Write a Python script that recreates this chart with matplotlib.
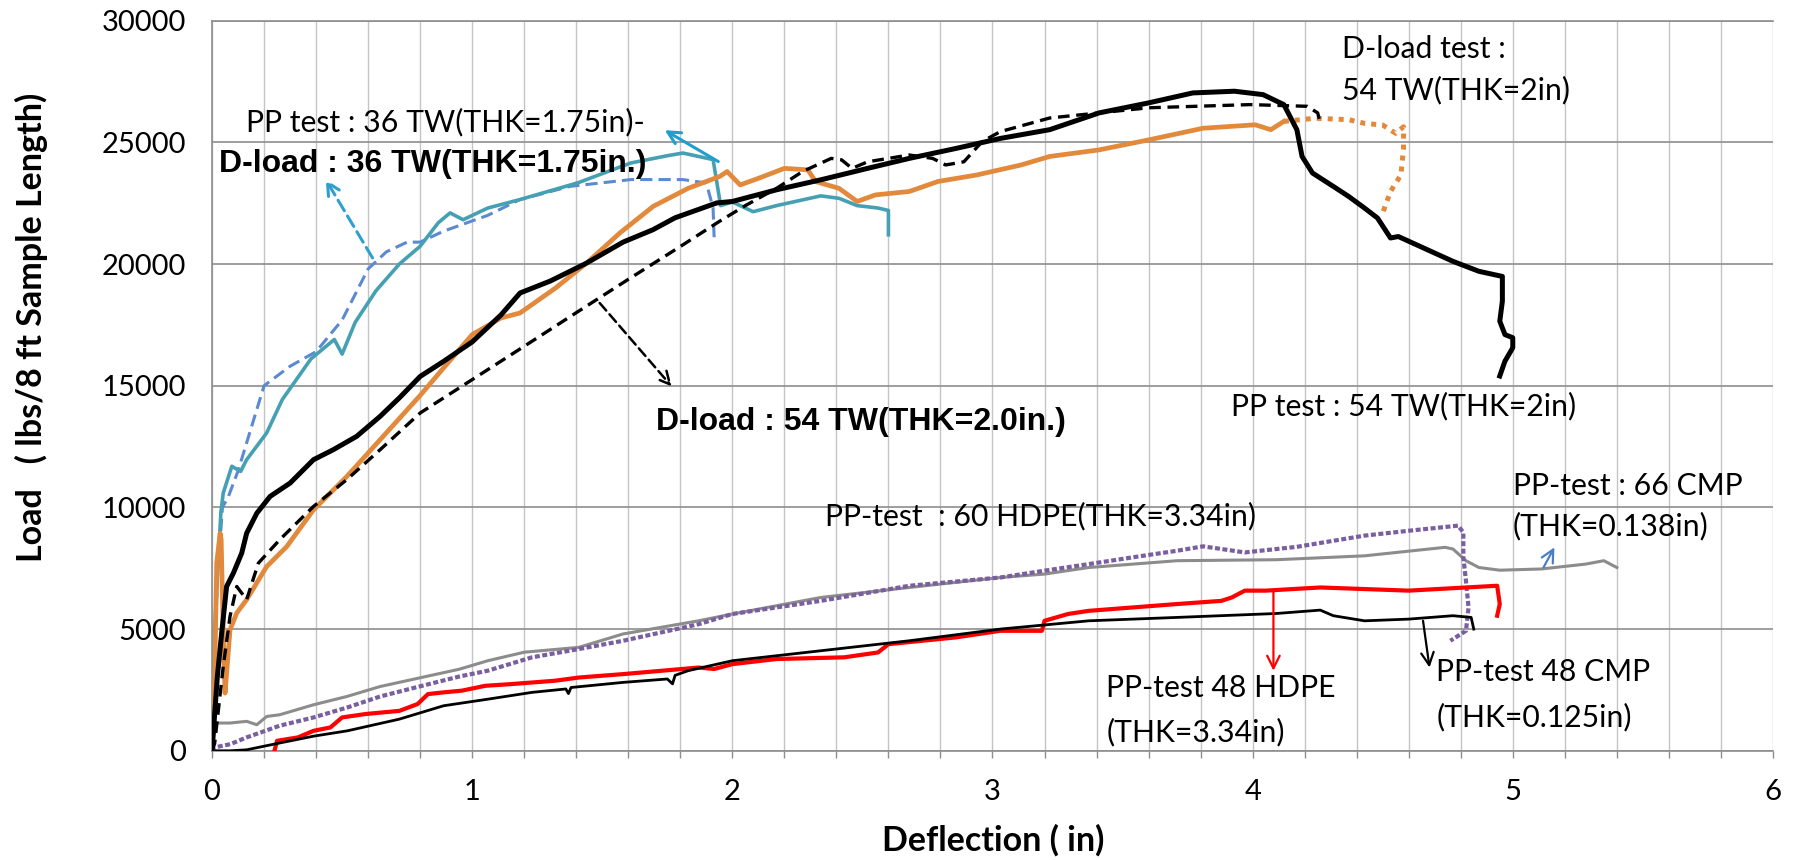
import matplotlib
matplotlib.use("Agg")

import matplotlib.pyplot as plt
from matplotlib.ticker import MultipleLocator

# ---- data (deflection in, load lbs/8 ft) ----
pp36_x = [0, 0.01, 0.034, 0.043, 0.076, 0.11, 0.133, 0.21, 0.27, 0.38, 0.47, 0.5, 0.55,
          0.63, 0.72, 0.8, 0.87, 0.915, 0.965, 1.06, 1.184, 1.407, 1.609, 1.75, 1.81,
          1.926, 1.955, 2.0, 2.08, 2.17, 2.34, 2.41, 2.48, 2.56, 2.6, 2.6]
pp36_y = [0, 5000, 9800, 10590, 11690, 11480, 11960, 13060, 14430, 16100, 16900, 16300, 17600,
          18900, 20000, 20730, 21700, 22100, 21820, 22300, 22650, 23340, 24150, 24450, 24560,
          24290, 22400, 22550, 22150, 22400, 22800, 22700, 22400, 22300, 22200, 21200]

dl36_x = [0, 0.02, 0.04, 0.063, 0.1, 0.2, 0.3, 0.4, 0.5, 0.6, 0.67, 0.75, 0.8, 0.89,
          1.06, 1.184, 1.376, 1.61, 1.81, 1.9, 1.926, 1.93]
dl36_y = [0, 7000, 10000, 10450, 11500, 15000, 15800, 16400, 17700, 19800, 20500, 20900, 20900, 21350,
          22000, 22650, 23190, 23470, 23470, 23330, 22300, 21100]

pp54_x = [0, 0.02, 0.037, 0.056, 0.082, 0.114, 0.133, 0.172, 0.223, 0.3, 0.39, 0.466, 0.556,
          0.646, 0.72, 0.8, 0.89, 1.0, 1.11, 1.184, 1.3, 1.44, 1.58, 1.695, 1.78, 1.94,
          2.0, 2.17, 2.34, 2.52, 2.68, 2.86, 3.03, 3.22, 3.41, 3.6, 3.77, 3.93, 4.04,
          4.12, 4.17, 4.19, 4.23, 4.31, 4.37, 4.43, 4.48, 4.53, 4.56, 4.63, 4.77, 4.87,
          4.96, 4.96, 4.95, 4.97, 5.0, 5.0, 4.97, 4.95]
pp54_y = [0, 3000, 4840, 6750, 7300, 8120, 8940, 9760, 10450, 11000, 11960, 12370, 12920,
          13740, 14500, 15380, 16000, 16800, 17900, 18810, 19300, 20040, 20900, 21410, 21900, 22510,
          22570, 23050, 23460, 23930, 24340, 24750, 25160, 25520, 26210, 26620, 27030, 27100, 26960,
          26550, 25520, 24420, 23740, 23190, 22770, 22300, 21890, 21070, 21130, 20790, 20110, 19700,
          19490, 18470, 17650, 17100, 16970, 16560, 16010, 15400]

dl54_x = [0, 0.01, 0.043, 0.069, 0.095, 0.133, 0.178, 0.26, 0.39, 0.518, 0.646, 0.8,
          1.0, 1.2, 1.4, 1.6, 1.8, 1.95, 2.05, 2.17, 2.27, 2.38, 2.42, 2.46, 2.52, 2.68,
          2.77, 2.82, 2.89, 2.96, 3.03, 3.22, 3.41, 3.6, 3.99, 4.21, 4.25, 4.26]
dl54_y = [0, 300, 3460, 5520, 6750, 6210, 7710, 8670, 10040, 11140, 12370, 13880,
          15250, 16620, 18000, 19370, 20720, 21750, 22400, 23110, 23800, 24340, 24280, 23930, 24200, 24480,
          24340, 24070, 24200, 25030, 25440, 26000, 26210, 26420, 26550, 26480, 26210, 25800]

dlt54_x = [0, 0.01, 0.018, 0.031, 0.035, 0.045, 0.05, 0.069, 0.095, 0.133, 0.21, 0.287, 0.39,
           0.518, 0.646, 0.8, 0.89, 1.0, 1.11, 1.184, 1.32, 1.44, 1.568, 1.696, 1.83, 1.952,
           1.98, 2.03, 2.1, 2.2, 2.29, 2.32, 2.41, 2.48, 2.55, 2.68, 2.79, 2.94, 3.11,
           3.22, 3.41, 3.6, 3.81, 4.01, 4.07, 4.12]
dlt54_y = [0, 3000, 7710, 8940, 8680, 4000, 2370, 4970, 5660, 6210, 7570, 8390, 9900,
           11270, 12780, 14600, 15730, 17100, 17780, 17990, 19010, 20040, 21280, 22370, 23110, 23600,
           23800, 23250, 23520, 23930, 23870, 23390, 23110, 22570, 22840, 22980, 23390, 23660, 24070,
           24420, 24690, 25100, 25580, 25720, 25520, 25860]
# dotted tail of the same curve
dlt54_tail_x = [4.12, 4.24, 4.37, 4.43, 4.5, 4.55, 4.58, 4.58, 4.57, 4.53, 4.5]
dlt54_tail_y = [25860, 25990, 25930, 25780, 25710, 25370, 25640, 24750, 23660, 22980, 22100]

cmp66_x = [0, 0.012, 0.069, 0.133, 0.172, 0.21, 0.26, 0.39, 0.518, 0.646, 0.8, 0.95, 1.06,
           1.2, 1.41, 1.58, 1.87, 2.0, 2.34, 2.68, 3.03, 3.2, 3.37, 3.71, 4.09, 4.43,
           4.74, 4.77, 4.82, 4.87, 4.95, 5.11, 5.28, 5.35, 5.4]
cmp66_y = [0, 1140, 1140, 1210, 1070, 1410, 1480, 1890, 2230, 2640, 3000, 3350, 3700,
           4050, 4250, 4800, 5340, 5620, 6300, 6710, 7120, 7260, 7530, 7810, 7850, 8010,
           8360, 8290, 7810, 7530, 7420, 7470, 7670, 7810, 7530]

hdpe60_x = [0, 0.01, 0.07, 0.133, 0.26, 0.39, 0.52, 0.646, 0.8, 0.95, 1.06, 1.23, 1.41,
            1.58, 1.87, 2.0, 2.34, 2.68, 3.03, 3.2, 3.37, 3.54, 3.71, 3.81, 3.97, 4.17,
            4.43, 4.6, 4.79, 4.81, 4.81, 4.82, 4.83, 4.82, 4.76]
hdpe60_y = [0, 140, 270, 550, 1030, 1370, 1780, 2230, 2650, 3050, 3290, 3840, 4180,
            4520, 5200, 5620, 6160, 6780, 7120, 7400, 7670, 7950, 8220, 8400, 8150, 8380,
            8840, 9040, 9250, 8970, 7950, 6990, 5890, 4930, 4520]

hdpe48_x = [0.24, 0.25, 0.33, 0.39, 0.455, 0.5, 0.59, 0.72, 0.79, 0.83, 0.89, 0.96, 1.05,
            1.15, 1.32, 1.41, 1.58, 1.87, 1.93, 2.0, 2.17, 2.43, 2.56, 2.6, 2.86, 3.03,
            3.19, 3.2, 3.29, 3.37, 3.71, 3.88, 3.92, 3.97, 4.05, 4.26, 4.6, 4.82, 4.94,
            4.95, 4.94]
hdpe48_y = [0, 410, 550, 820, 960, 1370, 1510, 1640, 1920, 2330, 2400, 2470, 2670,
            2740, 2880, 3010, 3150, 3420, 3360, 3560, 3770, 3840, 4040, 4380, 4660, 4930,
            4930, 5340, 5620, 5750, 6030, 6160, 6300, 6580, 6580, 6710, 6580, 6710, 6780,
            6030, 5550]

cmp48_x = [0, 0.07, 0.133, 0.26, 0.39, 0.52, 0.72, 0.89, 1.06, 1.23, 1.36, 1.37, 1.38,
           1.58, 1.75, 1.77, 1.78, 1.83, 2.0, 2.34, 2.68, 3.03, 3.37, 3.71, 4.09, 4.26,
           4.31, 4.43, 4.6, 4.77, 4.84, 4.85]
cmp48_y = [0, 0, 40, 320, 600, 820, 1300, 1850, 2120, 2400, 2540, 2350, 2600,
           2810, 2950, 2750, 3100, 3290, 3700, 4110, 4520, 5000, 5340, 5480, 5640, 5780,
           5550, 5340, 5410, 5550, 5480, 5000]

x_ticks = [0, 1, 2, 3, 4, 5, 6]
y_ticks = [0, 5000, 10000, 15000, 20000, 25000, 30000]

CAL = ["Lato", "DejaVu Sans"]
NARROW = ["Liberation Sans Narrow", "Liberation Sans", "DejaVu Sans"]

fig = plt.figure(figsize=(17.97, 8.6), dpi=100)
ax = fig.add_axes([0.118, 0.127, 0.8686, 0.849])

# grid like the excel original
ax.set_xlim(0, 6)
ax.set_ylim(0, 30000)
ax.xaxis.set_major_locator(MultipleLocator(1))
ax.xaxis.set_minor_locator(MultipleLocator(0.2))
ax.yaxis.set_major_locator(MultipleLocator(5000))
ax.grid(which="both", axis="x", color="#c4c4c4", lw=1.0, zorder=0)
ax.grid(which="major", axis="y", color="#8e8e8e", lw=1.2, zorder=0)
ax.set_axisbelow(True)
for side in ["top", "right"]:
    ax.spines[side].set_visible(False)
ax.spines["left"].set_color("#8e8e8e")
ax.spines["bottom"].set_color("#8e8e8e")
ax.spines["left"].set_linewidth(1.2)
ax.spines["bottom"].set_linewidth(1.2)
ax.axhline(30000, color="#8e8e8e", lw=1.2, clip_on=False)

ax.tick_params(axis="x", which="both", direction="out", length=5, width=1, color="#8e8e8e",
               labelsize=21, pad=15)
ax.tick_params(axis="y", which="both", length=0, labelsize=21, pad=19)
ax.set_xticks(x_ticks)
ax.set_yticks(y_ticks)
for lab in ax.get_xticklabels() + ax.get_yticklabels():
    lab.set_family(CAL)

# curves
ax.plot(cmp66_x, cmp66_y, color="#8c8c8c", lw=2.2, zorder=3)
ax.plot(hdpe60_x, hdpe60_y, color="#7a5fa0", lw=3, ls=(0, (1.2, 0.6)), zorder=3)
ax.plot(hdpe48_x, hdpe48_y, color="#ff0000", lw=3, zorder=3)
ax.plot(cmp48_x, cmp48_y, color="black", lw=2, zorder=3)

ax.plot(dl36_x, dl36_y, color="#5b89d2", lw=2.2, ls=(0, (4, 2)), zorder=4)
ax.plot(pp36_x, pp36_y, color="#46a0b4", lw=2.6, zorder=4)
ax.plot(dlt54_x, dlt54_y, color="#e2893b", lw=3.4, zorder=4)
ax.plot(dlt54_tail_x, dlt54_tail_y, color="#e2893b", lw=3.6, ls=(0, (1, 1.2)), zorder=4)
ax.plot(dl54_x, dl54_y, color="black", lw=2.4, ls=(0, (3.5, 2)), zorder=5)
ax.plot(pp54_x, pp54_y, color="black", lw=3.6, zorder=5)

# annotations
def arrow(xy_from, xy_to, color, dashed=False, lw=1.8):
    ax.annotate("", xy=xy_to, xytext=xy_from,
                arrowprops=dict(arrowstyle="->,head_length=0.9,head_width=0.45", color=color, lw=lw,
                                ls=(0, (4, 2)) if dashed else "-", shrinkA=0, shrinkB=0),
                zorder=6)

arrow((1.946, 24210), (1.74, 25500), "#1f9fd0", lw=2.2)
arrow((0.617, 20250), (0.437, 23470), "#2f9fd0", dashed=True, lw=2.2)
arrow((1.49, 18400), (1.767, 14970), "black", dashed=True, lw=1.8)
arrow((4.08, 6580), (4.08, 3290), "#ff0000", lw=1.6)
arrow((4.655, 5340), (4.68, 3420), "black", lw=1.6)
arrow((5.118, 7530), (5.16, 8360), "#4a7fc8", lw=1.6)

reg = dict(fontsize=21.7, family=CAL, va="center", ha="left", zorder=7)
bold = dict(fontsize=23, family=NARROW, weight="bold", va="center", ha="left", zorder=7)

ax.text(0.129, 25850, "PP test : 36 TW(THK=1.75in)-", **reg)
ax.text(0.026, 24100, "D-load : 36 TW(THK=1.75in.)", **bold)
ax.text(1.706, 13500, "D-load : 54 TW(THK=2.0in.)", **bold)
ax.text(3.917, 14170, "PP test : 54 TW(THK=2in)", **reg)
ax.text(4.343, 28850, "D-load test :", **reg)
ax.text(4.343, 27140, "54 TW(THK=2in)", **reg)
ax.text(2.358, 9660, "PP-test  : 60 HDPE(THK=3.34in)", **reg)
ax.text(5.0, 10890, "PP-test : 66 CMP", **reg)
ax.text(5.0, 9250, "(THK=0.138in)", **reg)
ax.text(3.437, 2600, "PP-test 48 HDPE", **reg)
ax.text(3.437, 750, "(THK=3.34in)", **reg)
ax.text(4.706, 3220, "PP-test 48 CMP", **reg)
ax.text(4.706, 1370, "(THK=0.125in)", **reg)

fig.text(0.5525, 0.023, "Deflection ( in)", fontsize=24.5, weight="bold", family=CAL,
         ha="center", va="center")
fig.text(0.0175, 0.619, "Load   ( lbs/8 ft Sample Length)", fontsize=24.5, weight="bold",
         family=CAL, rotation=90, ha="center", va="center")

fig.savefig("out.png", dpi=100)
